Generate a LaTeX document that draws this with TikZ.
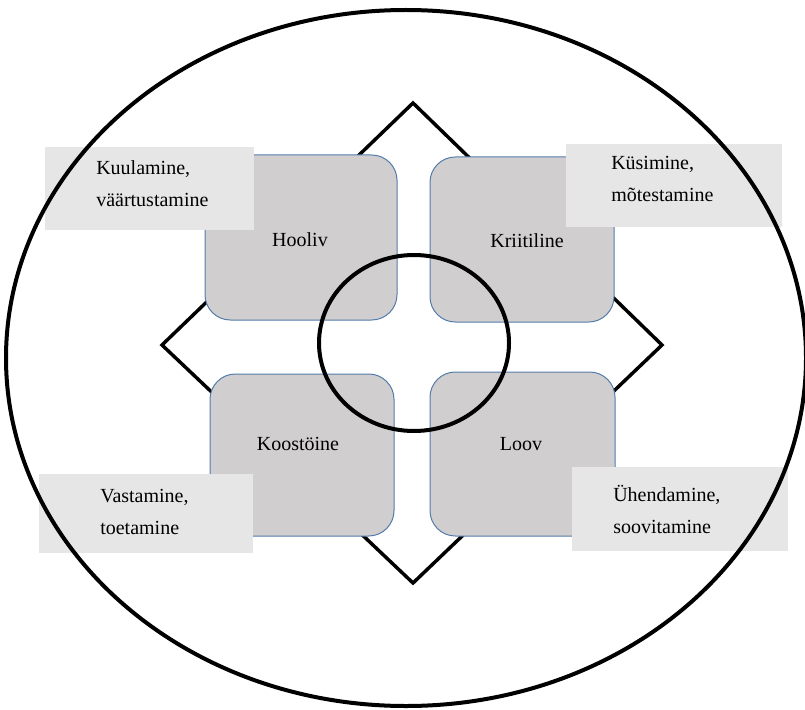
\documentclass[tikz,border=0pt]{standalone}
\usepackage{fontspec}
\setmainfont{Liberation Serif}
\usepackage{tikz}
\usepackage{xcolor}
\usetikzlibrary{shapes.geometric, positioning}
\definecolor{quad-gray}{RGB}{208,206,207}
\definecolor{quad-edge}{RGB}{84,124,170}
\definecolor{note-gray}{RGB}{230,230,230}

\tikzset{
  quadbox/.style={draw=quad-edge, line width=0.75pt, fill=quad-gray, rounded corners=19pt, inner sep=0pt},
  quadtext/.style={font=\fontsize{15}{24}\selectfont},
  notebox/.style={fill=note-gray, inner sep=0pt, align=left, font=\fontsize{15}{24}\selectfont},
}

\begin{document}
\begin{tikzpicture}[x=0.75pt, y=-0.75pt]
  \useasboundingbox (0,0) rectangle (805,709);

  % Diamond behind the four boxes
  \coordinate (dtop) at (413,103);
  \coordinate (dright) at (662,345);
  \coordinate (dbottom) at (413,583);
  \coordinate (dleft) at (162,345);
  \draw[line width=2.6pt, fill=white, line join=miter] (dtop) -- (dright) -- (dbottom) -- (dleft) -- cycle;

  % Four quadrants
  \node[quadbox, minimum width=144pt, minimum height=123.75pt] (hooliv) at (301,237.5) {};
  \node[quadbox, minimum width=138pt, minimum height=123.75pt] (kriit) at (522,239.5) {};
  \node[quadbox, minimum width=138pt, minimum height=121.5pt] (koost) at (302,455) {};
  \node[quadbox, minimum width=138.75pt, minimum height=123pt] (loov) at (522.5,454) {};

  \node[quadtext] (hoolivtext) at (300,240) {Hooliv};
  \node[quadtext] (kriittext) at (527,241) {Kriitiline};
  \node[quadtext] (koosttext) at (298,444) {Koostöine};
  \node[quadtext] (loovtext) at (521,444) {Loov};

  % Activity notes
  \node[notebox, minimum width=156.75pt, minimum height=62.25pt] (kuul) at (149.5,188.5) {};
  \node[notebox, anchor=west] (kuultext) at (96,184) {Kuulamine,\\väärtustamine};
  \node[notebox, minimum width=162pt, minimum height=62.25pt] (kys) at (674,185.5) {};
  \node[notebox, anchor=west] (kystext) at (611,179) {Küsimine,\\mõtestamine};
  \node[notebox, minimum width=160.5pt, minimum height=59.25pt] (vast) at (146,513.5) {};
  \node[notebox, anchor=west] (vasttext) at (100,512) {Vastamine,\\toetamine};
  \node[notebox, minimum width=162pt, minimum height=63pt] (yhend) at (680,509) {};
  \node[notebox, anchor=west] (yhendtext) at (613,509) {Ühendamine,\\soovitamine};

  % Centre circle and outer ellipse
  \draw[line width=3pt] (414,343) ellipse [x radius=71.25pt, y radius=66pt];
  \draw[line width=3pt] (406,358) ellipse [x radius=300pt, y radius=261pt];
\end{tikzpicture}
\end{document}
